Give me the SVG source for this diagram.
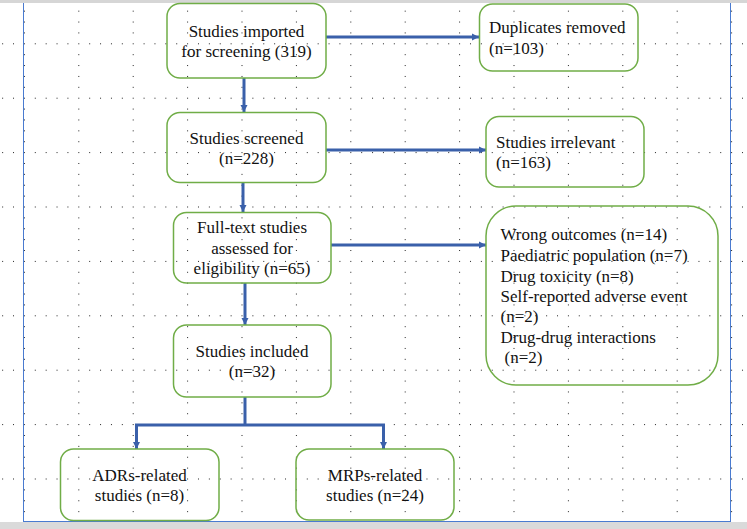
<svg xmlns="http://www.w3.org/2000/svg" width="747" height="529" viewBox="0 0 747 529">
<defs>
<pattern id="grid" patternUnits="userSpaceOnUse" x="23.9" y="-11.1" width="54.4" height="54.4">
<rect x="0" y="0" width="1" height="1" fill="#222"/>
<rect x="10.88" y="0" width="1" height="1" fill="#222"/>
<rect x="21.76" y="0" width="1" height="1" fill="#222"/>
<rect x="32.64" y="0" width="1" height="1" fill="#222"/>
<rect x="43.52" y="0" width="1" height="1" fill="#222"/>
<rect x="0" y="10.88" width="1" height="1" fill="#222"/>
<rect x="0" y="21.76" width="1" height="1" fill="#222"/>
<rect x="0" y="32.64" width="1" height="1" fill="#222"/>
<rect x="0" y="43.52" width="1" height="1" fill="#222"/>
</pattern>
<marker id="arr" markerUnits="userSpaceOnUse" markerWidth="8" markerHeight="8" viewBox="0 0 8 8" refX="7" refY="4" orient="auto">
<path d="M0,0.5 L7,4 L0,7.5 Z" fill="#3a60aa"/>
</marker>
</defs>
<style>
.box{fill:none;stroke:#70ad47;stroke-width:1.5}
.t{font-family:'Liberation Serif','DejaVu Serif',serif;font-size:17px;fill:#111}
.c{text-anchor:middle}
.con{fill:none;stroke:#3a60aa;stroke-width:3}
</style>
<rect x="0" y="0" width="747" height="529" fill="#fff"/>
<rect x="0" y="0" width="747" height="529" fill="url(#grid)"/>
<rect x="0" y="0" width="747" height="3" fill="#d6d6d6"/>
<rect x="0" y="522" width="747" height="7" fill="#dadada"/>
<line x1="23.5" y1="3" x2="23.5" y2="522" stroke="#4a7bd0" stroke-width="1"/>
<line x1="730.5" y1="3" x2="730.5" y2="522" stroke="#4a7bd0" stroke-width="1"/>
<line x1="23" y1="521.5" x2="731" y2="521.5" stroke="#4a7bd0" stroke-width="1"/>

<g id="connectors">
<path class="con" d="M326,37 H479" marker-end="url(#arr)"/>
<path class="con" d="M244,78 V112" marker-end="url(#arr)"/>
<path class="con" d="M326,150 H486" marker-end="url(#arr)"/>
<path class="con" d="M243,182.5 V212" marker-end="url(#arr)"/>
<path class="con" d="M331,245 H486" marker-end="url(#arr)"/>
<path class="con" d="M245,283 V325" marker-end="url(#arr)"/>
<path class="con" d="M245,397 V425"/>
<path class="con" d="M245,425 H136.5 V449" marker-end="url(#arr)"/>
<path class="con" d="M245,425 H383.5 V449" marker-end="url(#arr)"/>
</g>

<g font-family="Liberation Serif, DejaVu Serif, serif">
<g id="imported">
<rect class="box" x="167" y="3.5" width="159" height="74.5" rx="13"/>
<text class="t c" x="246.5" y="37">Studies imported</text>
<text class="t c" x="246.5" y="57">for screening (319)</text>
</g>
<g id="duplicates">
<rect class="box" x="479.5" y="4" width="158.5" height="67" rx="13"/>
<text class="t" x="489" y="32.5">Duplicates removed</text>
<text class="t" x="489" y="53.5">(n=103)</text>
</g>
<g id="screened">
<rect class="box" x="167" y="112.5" width="159" height="70" rx="13"/>
<text class="t c" x="246.5" y="143.5">Studies screened</text>
<text class="t c" x="246.5" y="164">(n=228)</text>
</g>
<g id="irrelevant">
<rect class="box" x="486" y="116.5" width="158" height="70.5" rx="13"/>
<text class="t" x="496" y="148">Studies irrelevant</text>
<text class="t" x="496" y="168">(n=163)</text>
</g>
<g id="fulltext">
<rect class="box" x="173.5" y="212.5" width="157.5" height="70.5" rx="13"/>
<text class="t c" x="252" y="233">Full-text studies</text>
<text class="t c" x="252" y="253.5">assessed for</text>
<text class="t c" x="252" y="273.5">eligibility (n=65)</text>
</g>
<g id="excluded">
<rect class="box" x="486" y="206" width="232" height="179" rx="30"/>
<text class="t" x="500.5" y="240">Wrong outcomes (n=14)</text>
<text class="t" x="500.5" y="260.5">Paediatric population (n=7)</text>
<text class="t" x="500.5" y="281.5">Drug toxicity (n=8)</text>
<text class="t" x="500.5" y="302">Self-reported adverse event</text>
<text class="t" x="500.5" y="322">(n=2)</text>
<text class="t" x="500.5" y="342.5">Drug-drug interactions</text>
<text class="t" x="504.5" y="363">(n=2)</text>
</g>
<g id="included">
<rect class="box" x="173.5" y="325" width="157.5" height="72" rx="13"/>
<text class="t c" x="252" y="357">Studies included</text>
<text class="t c" x="252" y="377">(n=32)</text>
</g>
<g id="adrs">
<rect class="box" x="60.5" y="449" width="158.5" height="71.5" rx="13"/>
<text class="t c" x="139.5" y="481">ADRs-related</text>
<text class="t c" x="139.5" y="501">studies (n=8)</text>
</g>
<g id="mrps">
<rect class="box" x="296" y="449" width="158" height="71" rx="13"/>
<text class="t c" x="375" y="481">MRPs-related</text>
<text class="t c" x="375" y="501">studies (n=24)</text>
</g>
</g>
</svg>
